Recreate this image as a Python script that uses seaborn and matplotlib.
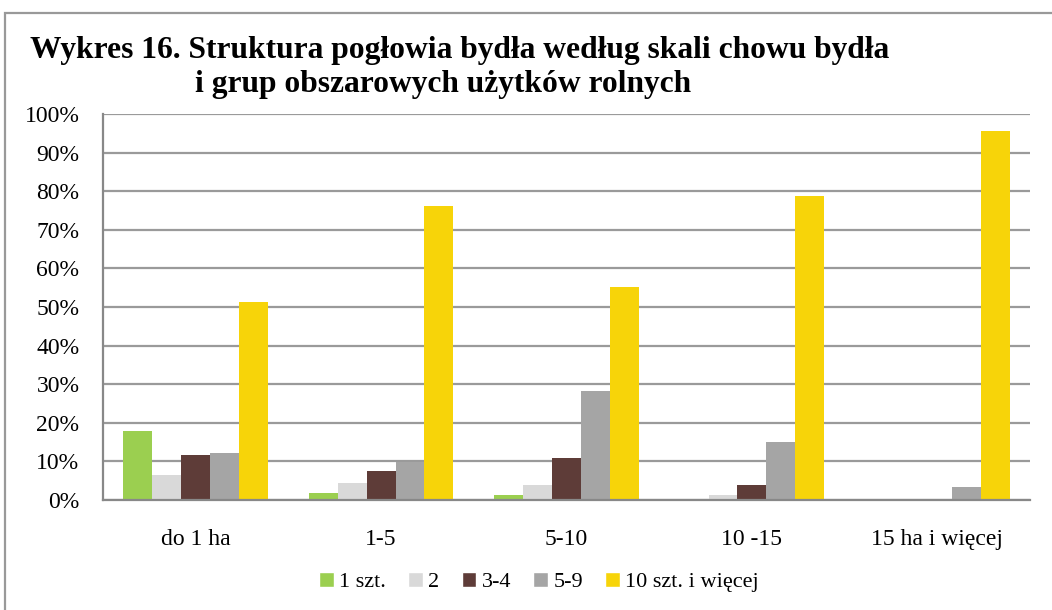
import matplotlib
matplotlib.use("Agg")
import matplotlib.pyplot as plt
from matplotlib.patches import Rectangle, Patch
from matplotlib.ticker import FixedLocator, PercentFormatter
import pandas as pd
import seaborn as sns

# dane (%)
grupy = ['do 1 ha', '1-5', '5-10', '10 -15', '15 ha i więcej']
serie = ['1 szt.', '2', '3-4', '5-9', '10 szt. i więcej']
szt_1 = [17.8, 1.7, 1.2, 0.0, 0.1]
szt_2 = [6.4, 4.3, 3.8, 1.2, 0.0]
szt_3_4 = [11.6, 7.5, 11.0, 3.8, 0.0]
szt_5_9 = [12.1, 9.9, 28.2, 14.9, 3.3]
szt_10 = [51.4, 76.1, 55.1, 78.8, 95.6]
kolory = ['#9BCF50', '#D9D9D9', '#5E3C38', '#A5A5A5', '#F7D409']

rows = []
for s, vals in zip(serie, [szt_1, szt_2, szt_3_4, szt_5_9, szt_10]):
    for g, v in zip(grupy, vals):
        rows.append({'grupa': g, 'seria': s, 'proc': v})
df = pd.DataFrame(rows)

sns.set_style("white")
plt.rcParams['font.family'] = ['Liberation Serif', 'DejaVu Serif']
plt.rcParams['text.color'] = 'black'
plt.rcParams['xtick.color'] = 'black'
plt.rcParams['ytick.color'] = 'black'

fig = plt.figure(figsize=(10.52, 6.10), dpi=100)
ax = fig.add_axes([103 / 1052, 1 - 500 / 610, (1030 - 103) / 1052, (500 - 114) / 610])

sns.barplot(data=df, x='grupa', y='proc', hue='seria', order=grupy, hue_order=serie,
            palette=kolory, width=0.78, gap=0, saturation=1, ax=ax, legend=False,
            linewidth=0)

ax.set_ylim(0, 100)
ax.set_xlim(-0.5, len(grupy) - 0.5)
ax.yaxis.set_major_locator(FixedLocator(range(0, 101, 10)))
ax.yaxis.set_major_formatter(PercentFormatter(decimals=0))
ax.grid(axis='y', color='#9A9A9A', linewidth=1.6)
ax.set_axisbelow(True)
ax.set_xlabel('')
ax.set_ylabel('')

for side in ['top', 'right']:
    ax.spines[side].set_visible(False)
for side in ['left', 'bottom']:
    ax.spines[side].set_color('#888888')
    ax.spines[side].set_linewidth(1.6)

ax.tick_params(axis='y', length=5, width=1.6, color='#888888', labelsize=17, pad=12)
ax.tick_params(axis='x', which='major', length=0, labelsize=17, pad=21)
ax.set_xticks([i - 0.5 for i in range(len(grupy) + 1)], minor=True)
ax.tick_params(axis='x', which='minor', length=6, width=1.6, color='#888888')

# ramka wokół wykresu
fig.add_artist(Rectangle((5 / 1052, -0.1), 1.2, 1 - 13 / 610 + 0.1,
                         transform=fig.transFigure, fill=False,
                         edgecolor='#999999', linewidth=1.6))

fig.text(30 / 1052, 1 - 58 / 610, 'Wykres 16. Struktura pogłowia bydła według skali chowu bydła',
         fontsize=22.7, fontweight='bold', va='baseline', ha='left')
fig.text(195 / 1052, 1 - 92 / 610, 'i grup obszarowych użytków rolnych',
         fontsize=22.7, fontweight='bold', va='baseline', ha='left')

uchwyty = [Patch(facecolor=c, label=s) for c, s in zip(kolory, serie)]
fig.legend(handles=uchwyty, loc='center', bbox_to_anchor=(539 / 1052, 1 - 582 / 610),
           ncol=5, frameon=False, fontsize=16, handlelength=0.65, handleheight=0.65,
           handletextpad=0.25, columnspacing=1.0)

fig.savefig('out.png', dpi=100)
